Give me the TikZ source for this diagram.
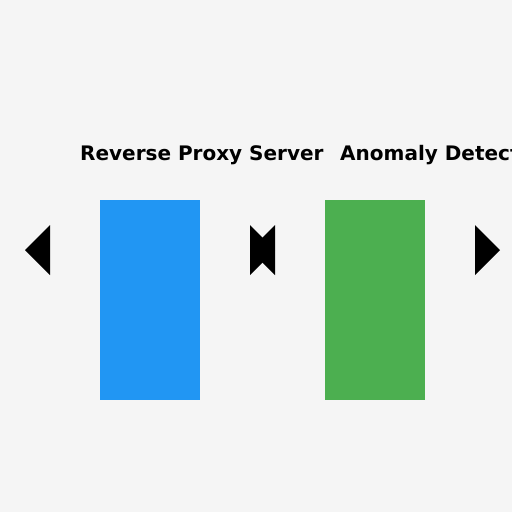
\documentclass[tikz,border=0pt]{standalone}
\usepackage{fontspec}
\setmainfont{DejaVu Sans}
\definecolor{bg}{HTML}{F5F5F5}
\definecolor{boxblue}{HTML}{2196F3}
\definecolor{boxgreen}{HTML}{4CAF50}
\begin{document}
\begin{tikzpicture}[x=1pt,y=-1pt,
  block/.style={draw=none,minimum width=100pt,minimum height=200pt,inner sep=0pt,anchor=north west},
  label/.style={font=\bfseries\fontsize{20pt}{22pt}\selectfont,anchor=base west,inner sep=0pt},
  tri/.style={fill=black}]
\fill[bg] (0,0) rectangle (512,512);
\useasboundingbox (0,0) rectangle (512,512);
\node[block,fill=boxblue] (proxy) at (100,200) {};
\node[block,fill=boxgreen] (anomaly) at (325,200) {};
\node[label] (proxylabel) at (80,160) {Reverse Proxy Server};
\node[label] (anomalylabel) at (340,160) {Anomaly Detection};
\fill[tri] (50,225) -- (25,250) -- (50,275) -- cycle;
\fill[tri] (250,225) -- (275,250) -- (250,275) -- cycle;
\fill[tri] (275,225) -- (250,250) -- (275,275) -- cycle;
\fill[tri] (475,225) -- (500,250) -- (475,275) -- cycle;
\end{tikzpicture}
\end{document}
